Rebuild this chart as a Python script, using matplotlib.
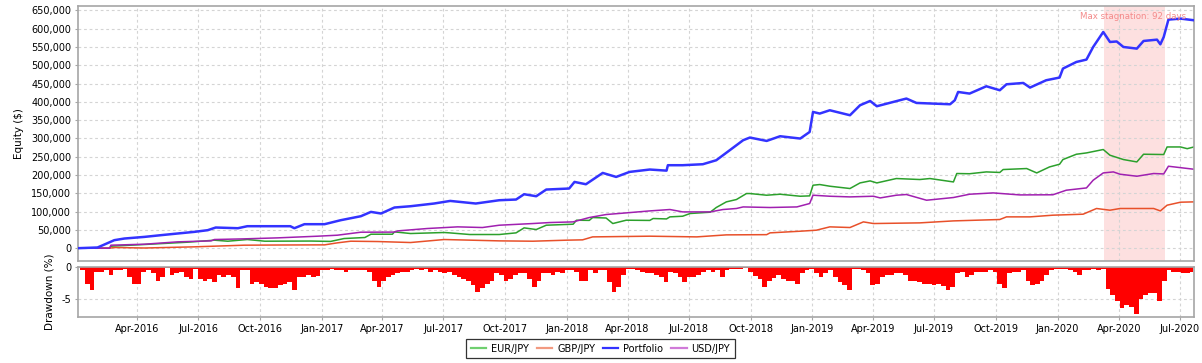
import matplotlib
matplotlib.use("Agg")
import matplotlib.pyplot as plt
import matplotlib.dates as mdates
from matplotlib.ticker import FuncFormatter, MultipleLocator
from matplotlib.lines import Line2D
import pandas as pd

# equity curves: (date, $)
portfolio = [
    ("2016-01-04", 0), ("2016-02-02", 1900), ("2016-02-10", 8200), ("2016-02-27", 21900),
    ("2016-03-13", 26400), ("2016-04-12", 30900), ("2016-05-06", 35500), ("2016-05-31", 40100),
    ("2016-06-25", 44600), ("2016-07-15", 49200), ("2016-07-27", 56500), ("2016-08-29", 54600),
    ("2016-09-12", 60100), ("2016-10-17", 60100), ("2016-11-15", 60100), ("2016-11-21", 54600),
    ("2016-12-06", 65600), ("2017-01-05", 65600), ("2017-01-29", 76500), ("2017-02-28", 87400),
    ("2017-03-15", 99200), ("2017-03-30", 94800), ("2017-04-19", 111200), ("2017-05-13", 114700),
    ("2017-06-17", 122100), ("2017-07-11", 129200), ("2017-08-18", 122100), ("2017-09-22", 131100),
    ("2017-10-17", 133000), ("2017-10-29", 147500), ("2017-11-16", 142000), ("2017-12-01", 160300),
    ("2018-01-04", 163100), ("2018-01-12", 181100), ("2018-01-29", 174800), ("2018-02-23", 205700),
    ("2018-03-15", 194800), ("2018-04-04", 208500), ("2018-05-04", 215000), ("2018-05-29", 212000),
    ("2018-05-31", 226800), ("2018-06-22", 226800), ("2018-07-22", 229500), ("2018-08-11", 240400),
    ("2018-08-31", 267700), ("2018-09-20", 295100), ("2018-09-30", 302400), ("2018-10-25", 293200),
    ("2018-11-14", 306000), ("2018-12-14", 299700), ("2018-12-28", 317700), ("2019-01-02", 372400),
    ("2019-01-12", 368000), ("2019-01-27", 377000), ("2019-02-26", 363400), ("2019-03-13", 390700),
    ("2019-03-28", 402400), ("2019-04-07", 388000), ("2019-05-11", 404300), ("2019-05-21", 409000),
    ("2019-06-05", 397000), ("2019-07-25", 393400), ("2019-08-01", 404300), ("2019-08-06", 427000),
    ("2019-08-23", 422600), ("2019-09-17", 442600), ("2019-10-07", 431700), ("2019-10-17", 448000),
    ("2019-11-11", 451600), ("2019-11-21", 439000), ("2019-12-15", 459000), ("2020-01-04", 466400),
    ("2020-01-09", 490900), ("2020-01-29", 509000), ("2020-02-13", 515500), ("2020-02-23", 550000),
    ("2020-03-09", 591000), ("2020-03-19", 563600), ("2020-03-29", 565000), ("2020-04-08", 550000),
    ("2020-04-28", 545500), ("2020-05-08", 566400), ("2020-05-28", 570000), ("2020-06-02", 557300),
    ("2020-06-07", 577300), ("2020-06-14", 624800), ("2020-07-02", 627500), ("2020-07-22", 623000),
]

eurjpy = [
    ("2016-01-04", 0), ("2016-02-20", 0), ("2016-02-22", 5500), ("2016-04-12", 10100),
    ("2016-06-15", 16400), ("2016-07-25", 21900), ("2016-08-14", 19100), ("2016-09-12", 23700),
    ("2016-10-08", 19100), ("2016-12-16", 19500), ("2017-01-14", 18500), ("2017-02-03", 26400),
    ("2017-03-06", 29200), ("2017-03-15", 38200), ("2017-04-16", 38200), ("2017-04-19", 44600),
    ("2017-05-13", 40100), ("2017-07-02", 42900), ("2017-07-10", 41900), ("2017-08-09", 37400),
    ("2017-09-22", 37400), ("2017-10-17", 41900), ("2017-10-29", 55500), ("2017-11-16", 51000),
    ("2017-12-01", 62800), ("2018-01-10", 65600), ("2018-01-15", 76500), ("2018-02-03", 76000),
    ("2018-02-08", 83800), ("2018-02-28", 82500), ("2018-03-10", 67400), ("2018-03-30", 76500),
    ("2018-05-04", 75900), ("2018-05-09", 81100), ("2018-05-29", 80000), ("2018-06-03", 85600),
    ("2018-06-22", 87400), ("2018-07-03", 94800), ("2018-08-02", 98400), ("2018-08-11", 111200),
    ("2018-08-26", 126600), ("2018-09-10", 133000), ("2018-09-25", 149400), ("2018-09-30", 149400),
    ("2018-10-25", 144800), ("2018-11-14", 147500), ("2018-12-14", 142000), ("2018-12-28", 143000),
    ("2019-01-02", 172100), ("2019-01-12", 174000), ("2019-01-27", 169400), ("2019-02-26", 163100),
    ("2019-03-13", 178400), ("2019-03-28", 183900), ("2019-04-07", 178400), ("2019-05-06", 190400),
    ("2019-06-10", 187700), ("2019-06-25", 190400), ("2019-07-30", 181100), ("2019-08-04", 204100),
    ("2019-08-23", 203500), ("2019-09-17", 208500), ("2019-10-07", 207000), ("2019-10-12", 215000),
    ("2019-11-16", 217700), ("2019-12-01", 205700), ("2019-12-20", 222100), ("2020-01-04", 229500),
    ("2020-01-09", 242300), ("2020-01-29", 256800), ("2020-02-13", 260400), ("2020-03-09", 269700),
    ("2020-03-19", 254100), ("2020-04-08", 242300), ("2020-04-28", 235800), ("2020-05-08", 256800),
    ("2020-06-07", 256000), ("2020-06-12", 276700), ("2020-07-02", 276700), ("2020-07-12", 272000),
    ("2020-07-22", 276700),
]

gbpjpy = [
    ("2016-01-04", 0), ("2016-02-20", 0), ("2016-02-27", 1900), ("2016-04-12", 500),
    ("2016-06-25", 3700), ("2016-09-07", 8200), ("2016-10-27", 8700), ("2017-01-05", 9100),
    ("2017-01-24", 14600), ("2017-02-13", 19100), ("2017-03-25", 18200), ("2017-05-13", 15500),
    ("2017-07-02", 23700), ("2017-09-22", 20000), ("2017-11-11", 19100), ("2017-12-31", 21900),
    ("2018-01-24", 22800), ("2018-02-08", 30900), ("2018-05-04", 32800), ("2018-07-13", 30900),
    ("2018-08-26", 36400), ("2018-10-25", 37000), ("2018-10-30", 41900), ("2018-12-14", 46400),
    ("2019-01-07", 49200), ("2019-01-27", 58300), ("2019-02-26", 56500), ("2019-03-18", 71900),
    ("2019-04-02", 67400), ("2019-06-10", 69200), ("2019-07-30", 74600), ("2019-10-07", 78400),
    ("2019-10-17", 85600), ("2019-11-21", 85600), ("2019-12-25", 90200), ("2020-02-08", 92900),
    ("2020-02-28", 108500), ("2020-03-19", 103800), ("2020-04-03", 108500), ("2020-05-23", 108500),
    ("2020-06-02", 101900), ("2020-06-12", 117500), ("2020-07-02", 125700), ("2020-07-22", 126600),
]

usdjpy = [
    ("2016-01-04", 0), ("2016-02-20", 0), ("2016-02-22", 8200), ("2016-04-12", 10900),
    ("2016-05-31", 17300), ("2016-07-20", 20000), ("2016-07-25", 23700), ("2016-09-07", 25500),
    ("2016-10-27", 28200), ("2016-12-26", 32800), ("2017-01-24", 35500), ("2017-02-28", 43700),
    ("2017-04-19", 44000), ("2017-04-24", 47300), ("2017-06-07", 53800), ("2017-07-22", 58300),
    ("2017-08-28", 56500), ("2017-09-22", 62800), ("2017-11-11", 67400), ("2017-12-06", 70100),
    ("2018-01-10", 71900), ("2018-02-03", 83800), ("2018-02-28", 92000), ("2018-03-30", 96500),
    ("2018-05-04", 101900), ("2018-06-03", 105700), ("2018-06-22", 99200), ("2018-08-02", 99200),
    ("2018-08-21", 105700), ("2018-09-10", 108500), ("2018-09-20", 112800), ("2018-10-30", 111200),
    ("2018-12-09", 112800), ("2018-12-28", 122100), ("2019-01-02", 144800), ("2019-01-27", 142000),
    ("2019-02-26", 140200), ("2019-04-02", 142000), ("2019-04-12", 137400), ("2019-05-06", 144800),
    ("2019-05-21", 146700), ("2019-06-20", 131100), ("2019-07-30", 138500), ("2019-08-23", 147500),
    ("2019-09-27", 151100), ("2019-11-06", 145600), ("2019-12-25", 146000), ("2020-01-14", 158500),
    ("2020-02-13", 164700), ("2020-02-23", 185800), ("2020-03-09", 205700), ("2020-03-24", 208500),
    ("2020-04-03", 202200), ("2020-04-28", 196700), ("2020-05-23", 204100), ("2020-06-07", 203000),
    ("2020-06-14", 224000), ("2020-07-22", 215800),
]

# weekly drawdown (%), starting 2016-01-04
dd_start = "2016-01-04"
drawdown = [
    0, -0.5, -2.6, -3.6, -0.8, -0.7, -0.5, -1.2, -0.4, -0.4,
    -0.3, -1.5, -2.7, -2.6, -0.8, -0.5, -1.0, -2.1, -1.5, -0.2,
    -1.3, -1.0, -0.8, -1.5, -1.8, -0.3, -1.8, -2.1, -1.8, -2.3,
    -1.3, -1.5, -1.3, -1.5, -3.2, -0.4, -0.4, -2.6, -2.3, -2.6,
    -3.1, -3.3, -3.3, -2.8, -2.6, -2.3, -3.5, -1.5, -1.5, -1.3,
    -1.5, -1.4, -0.4, -0.4, -0.3, -0.4, -0.5, -0.8, -0.5, -0.5,
    -0.4, -0.5, -0.8, -2.1, -3.1, -2.1, -1.5, -1.2, -1.0, -0.8,
    -0.7, -0.5, -0.3, -0.5, -0.3, -0.7, -0.5, -0.8, -1.0, -0.7,
    -1.3, -1.5, -1.9, -2.2, -2.8, -3.8, -3.3, -2.6, -2.1, -1.0,
    -1.2, -2.1, -1.8, -1.3, -0.9, -1.0, -1.8, -3.1, -2.1, -1.0,
    -0.9, -1.3, -0.8, -0.9, -0.4, -0.5, -0.8, -2.1, -2.2, -0.5,
    -1.0, -0.4, -0.5, -2.3, -3.8, -3.1, -1.3, -0.3, -0.3, -0.5,
    -0.8, -1.0, -0.9, -1.3, -1.5, -2.4, -0.8, -1.0, -1.5, -2.4,
    -1.5, -1.5, -1.3, -0.7, -0.5, -0.7, -0.5, -1.5, -0.4, -0.3,
    -0.3, -0.3, -0.2, -0.8, -1.4, -1.8, -3.1, -2.1, -1.7, -1.3,
    -1.8, -2.1, -2.2, -2.7, -0.9, -0.5, -0.3, -1.0, -1.6, -0.9,
    -0.5, -1.5, -2.3, -2.8, -3.5, -0.3, -0.3, -0.4, -1.0, -2.8,
    -2.7, -1.5, -1.3, -1.3, -1.0, -1.0, -1.3, -2.1, -2.2, -2.4,
    -2.6, -2.7, -2.8, -2.7, -2.9, -3.6, -3.1, -1.0, -0.8, -1.5,
    -1.3, -0.8, -0.7, -0.7, -0.5, -0.8, -2.6, -3.2, -1.0, -0.7,
    -0.8, -0.5, -2.1, -2.8, -2.6, -2.1, -1.2, -0.4, -0.3, -0.3,
    -0.3, -0.4, -0.8, -1.3, -0.5, -0.4, -0.3, -0.4, -0.3, -3.4,
    -4.4, -5.2, -6.4, -5.9, -6.2, -7.3, -5.0, -4.4, -4.1, -4.0,
    -5.3, -2.1, -0.5, -0.7, -0.8, -0.9, -1.0, -0.8,
]

stagnation = ("2020-03-10", "2020-06-09")
stagnation_label = "Max stagnation: 92 days"

series = [
    ("EUR/JPY", eurjpy, "#2ca02c", "#6fcf6f", 1.1),
    ("GBP/JPY", gbpjpy, "#e8502a", "#f29a80", 1.1),
    ("Portfolio", portfolio, "#3333ff", "#3333ff", 1.8),
    ("USD/JPY", usdjpy, "#a020b0", "#d07ad8", 1.1),
]

plt.rcParams["font.family"] = "DejaVu Sans"
plt.rcParams["font.size"] = 7

fig = plt.figure(figsize=(12.02, 3.63), dpi=100)
ax = fig.add_axes([0.0649, 0.281, 0.9284, 0.7025])
ax2 = fig.add_axes([0.0649, 0.1267, 0.9284, 0.1378], sharex=ax)

grid_kw = dict(color="#d4d4d4", linestyle=(0, (2.5, 2.5)), linewidth=0.8)
frame = "#a6a6a6"

ax.axvspan(pd.Timestamp(stagnation[0]), pd.Timestamp(stagnation[1]),
           color="#fde0e0", zorder=0.5, linewidth=0)

handles = []
for name, data, col, legcol, lw in series:
    d = pd.to_datetime([p[0] for p in data])
    v = [p[1] for p in data]
    ax.plot(d, v, color=col, linewidth=lw, zorder=3 if name == "Portfolio" else 2)
    handles.append(Line2D([], [], color=legcol, linewidth=1.6))

ax.text(0.993, 0.975, stagnation_label, transform=ax.transAxes, ha="right", va="top",
        color="#f48a8a", fontsize=6.2)

ax.set_ylim(-35000, 662000)
ax.yaxis.set_major_locator(MultipleLocator(50000))
ax.yaxis.set_major_formatter(FuncFormatter(lambda v, p: f"{v:,.0f}"))
ax.set_ylabel("Equity ($)", fontsize=7.5, labelpad=5)
ax.tick_params(axis="x", labelbottom=False, length=0)
ax.tick_params(axis="y", length=2, color=frame, pad=3)
ax.grid(True, **grid_kw)
ax.set_axisbelow(True)

dd_dates = pd.date_range(dd_start, periods=len(drawdown), freq="7D")
ax2.fill_between(dd_dates, drawdown, 0, step="mid", color="#ff0000", linewidth=0, zorder=2)
ax2.set_ylim(-7.75, 0)
ax2.set_yticks([0, -5])
ax2.set_yticklabels(["0", "-5"])
ax2.set_ylabel("Drawdown (%)", fontsize=7.5, labelpad=5)
ax2.tick_params(axis="both", length=2, color=frame, pad=3)
ax2.grid(True, **grid_kw)
ax2.set_axisbelow(True)

ax2.set_xlim(pd.Timestamp("2016-01-04"), pd.Timestamp("2020-07-22"))
ax2.xaxis.set_major_locator(mdates.MonthLocator(bymonth=[1, 4, 7, 10]))
ax2.xaxis.set_major_formatter(mdates.DateFormatter("%b-%Y"))
ax2.tick_params(axis="x", pad=3)

for a in (ax, ax2):
    for s in a.spines.values():
        s.set_color(frame)
        s.set_linewidth(1.2)

leg = fig.legend(handles, [s[0] for s in series], loc="center", ncol=4,
                 bbox_to_anchor=(0.4995, 1 - 348.5 / 363), fontsize=7,
                 frameon=True, fancybox=False, edgecolor="black",
                 handlelength=1.6, handletextpad=0.5, columnspacing=0.8,
                 borderpad=0.45, borderaxespad=0)
leg.get_frame().set_linewidth(0.9)

fig.savefig("out.png", dpi=100, facecolor="white")
